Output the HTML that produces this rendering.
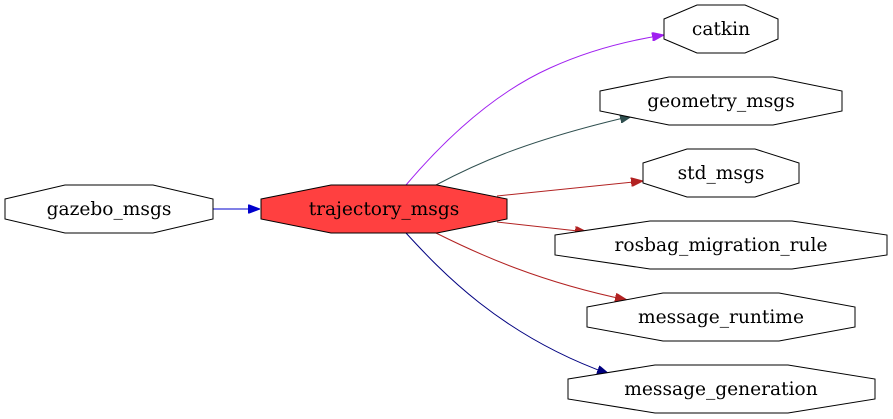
<!DOCTYPE html>
<html><head><style>body{margin:0;background:#fff}svg{display:block}text{font-family:"DejaVu Serif",serif;font-size:18.6px}</style></head>
<body>
<svg width="893" height="419" viewBox="0 0 893 419" xmlns="http://www.w3.org/2000/svg">
<defs>
<marker id="mb" markerWidth="12" markerHeight="9" refX="12" refY="4.5" orient="auto" markerUnits="userSpaceOnUse"><path d="M0,0L12,4.5L0,9z" fill="#0000cd" stroke="#0000cd"/></marker>
<marker id="mp" markerWidth="12" markerHeight="9" refX="12" refY="4.5" orient="auto" markerUnits="userSpaceOnUse"><path d="M0,0L12,4.5L0,9z" fill="#a020f0" stroke="#a020f0"/></marker>
<marker id="mg" markerWidth="12" markerHeight="9" refX="12" refY="4.5" orient="auto" markerUnits="userSpaceOnUse"><path d="M0,0L12,4.5L0,9z" fill="#2f4f4f" stroke="#2f4f4f"/></marker>
<marker id="mr" markerWidth="12" markerHeight="9" refX="12" refY="4.5" orient="auto" markerUnits="userSpaceOnUse"><path d="M0,0L12,4.5L0,9z" fill="#b22222" stroke="#b22222"/></marker>
<marker id="mn" markerWidth="12" markerHeight="9" refX="12" refY="4.5" orient="auto" markerUnits="userSpaceOnUse"><path d="M0,0L12,4.5L0,9z" fill="#000080" stroke="#000080"/></marker>
</defs>
<g fill="none">
<path d="M213,209L260,209" stroke="#0000cd" marker-end="url(#mb)"/>
<path d="M406,185C440,145 490,95 550,68C585,52 625,41 664,35" stroke="#a020f0" marker-end="url(#mp)"/>
<path d="M436,185C470,167 520,142 632,116" stroke="#2f4f4f" marker-end="url(#mg)"/>
<path d="M497,196L643,181" stroke="#b22222" marker-end="url(#mr)"/>
<path d="M497,222L587,232" stroke="#b22222" marker-end="url(#mr)"/>
<path d="M436,233C480,255 540,282 627,300" stroke="#b22222" marker-end="url(#mr)"/>
<path d="M406,233C440,270 500,335 609,374" stroke="#000080" marker-end="url(#mn)"/>
</g>
<g stroke="#000" fill="#fff">
<polygon points="5,199 65,185 153,185 213,199 213,219 153,233 65,233 5,219"/>
<polygon fill="#ff4040" points="261,199 331,185 437,185 507,199 507,219 437,233 331,233 261,219"/>
<polygon points="664,19 697,5 745,5 778,19 778,39 745,53 697,53 664,39"/>
<polygon points="600,91 669,77 773,77 842,91 842,111 773,125 669,125 600,111"/>
<polygon points="643,163 687,149 755,149 799,163 799,183 755,197 687,197 643,183"/>
<polygon points="555,235 650,221 792,221 887,235 887,255 792,269 650,269 555,255"/>
<polygon points="587,307 663,293 779,293 855,307 855,327 779,341 663,341 587,327"/>
<polygon points="568,379 655,365 788,365 875,379 875,399 788,413 655,413 568,399"/>
</g>
<g text-anchor="middle">
<text x="109" y="215">gazebo_msgs</text>
<text x="384" y="215">trajectory_msgs</text>
<text x="721" y="35">catkin</text>
<text x="721" y="107">geometry_msgs</text>
<text x="721" y="179">std_msgs</text>
<text x="721" y="251">rosbag_migration_rule</text>
<text x="721" y="323">message_runtime</text>
<text x="721" y="395">message_generation</text>
</g>
</svg>
</body></html>
